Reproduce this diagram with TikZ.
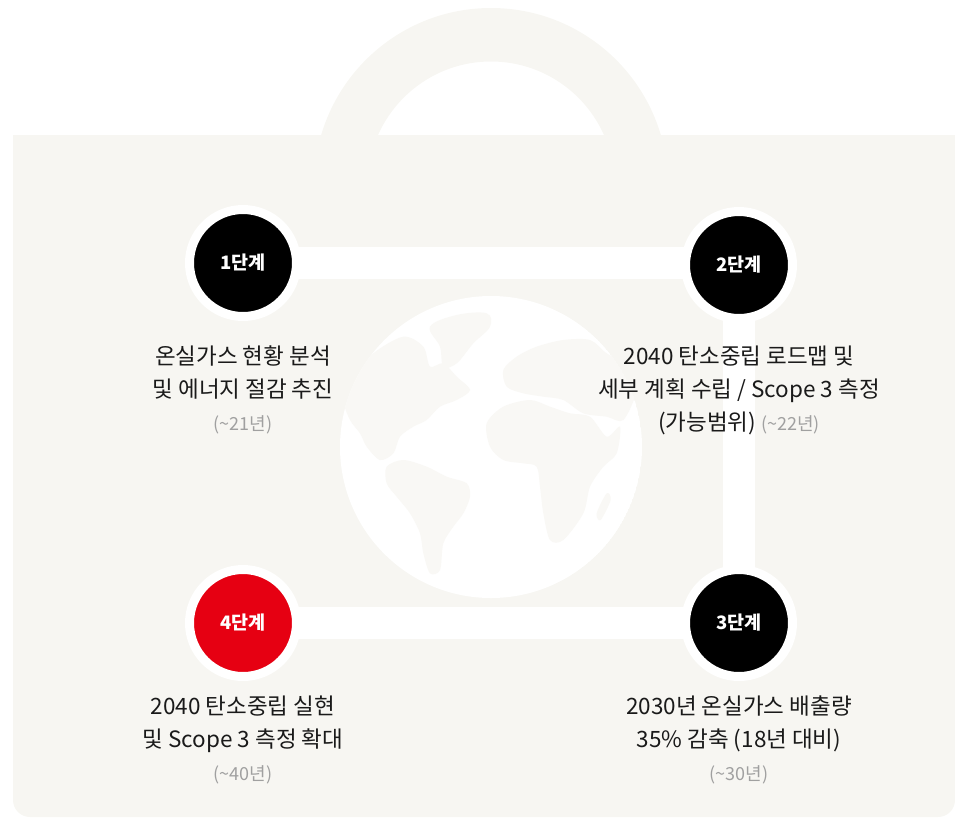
\documentclass[tikz,border=0pt]{standalone}
\usepackage{fontspec}
\newfontfamily\krfont{Noto Sans CJK KR}
\definecolor{paper}{HTML}{F7F6F2}
\definecolor{accent}{HTML}{E60012}
\definecolor{ink}{HTML}{1A1A1A}
\definecolor{muted}{HTML}{A0A0A0}
\pgfdeclarelayer{back}
\pgfdeclarelayer{mid}
\pgfsetlayers{back,mid,main}
\tikzset{
  stage/.style={circle, fill=black, draw=white, line width=9pt, minimum size=107pt,
    inner sep=0pt, text=white, font=\krfont\bfseries\fontsize{18.5}{20}\selectfont},
  link/.style={white, line width=32pt},
  desc/.style={align=center, text=ink, inner sep=0pt, font=\krfont\fontsize{22.5}{33}\selectfont},
  land/.style={fill=paper!80!white},
}
\newcommand{\period}[1]{{\color{muted}\fontsize{18}{33}\selectfont #1}}
\begin{document}
\begin{tikzpicture}[x=1pt,y=-1pt]
\useasboundingbox (0,0) rectangle (955,817);

% stages
\node[stage] (s1) at (243,263) {1단계};
\node[stage] (s2) at (739,265) {2단계};
\node[stage] (s3) at (739,623) {3단계};
\node[stage, fill=accent] (s4) at (243,623) {4단계};

% descriptions
\node[desc] (t1) at (243,390) {온실가스 현황 분석\\및 에너지 절감 추진\\\period{(\textasciitilde21년)}};
\node[desc] (t2) at (739,390) {2040 탄소중립 로드맵 및\\세부 계획 수립 / Scope 3 측정\\(가능범위) \period{(\textasciitilde22년)}};
\node[desc] (t4) at (243,740) {2040 탄소중립 실현\\및 Scope 3 측정 확대\\\period{(\textasciitilde40년)}};
\node[desc] (t3) at (739,740) {2030년 온실가스 배출량\\35\% 감축 (18년 대비)\\\period{(\textasciitilde30년)}};

% connectors between stages
\begin{pgfonlayer}{mid}
\draw[link] (s1.center) -- (s2.center |- s1.center);
\draw[link] (s2.center) -- (s3.center);
\draw[link] (s3.center) -- (s4.center);
\end{pgfonlayer}

\begin{pgfonlayer}{back}
% bag body
\fill[paper, rounded corners=17pt] (13,135) rectangle (955,817);
\fill[paper] (13,135) rectangle (955,300);
% bag handle
\begin{scope}
  \clip (0,0) rectangle (955,136);
  \fill[paper, even odd rule] (491,185) circle[radius=177pt] (491,185) circle[radius=123.5pt];
\end{scope}
% globe
\begin{scope}
  \clip (491,447) circle[radius=151pt];
  \fill[white] (491,447) circle[radius=151pt];
  \begin{scope}[shift={(330,280)}, scale=1/3]
    % Greenland
    \fill[land] plot[smooth cycle, tension=0.6] coordinates {(330,200) (300,140) (380,105) (470,100) (480,140) (430,190) (380,250) (340,260)};
    % North America
    \fill[land] plot[smooth cycle, tension=0.5] coordinates {(60,300) (130,220) (220,170) (280,200) (300,260) (340,250) (380,290) (420,330) (380,360) (330,380) (290,420) (250,440) (210,470) (190,520) (150,540) (110,500) (90,460) (60,420) (40,360)};
    % South America
    \fill[land] plot[smooth cycle, tension=0.5] coordinates {(170,560) (220,540) (290,560) (350,590) (410,610) (420,650) (400,700) (370,740) (340,790) (330,870) (300,880) (280,820) (270,760) (240,700) (200,650) (170,610)};
    % Europe
    \fill[land] plot[smooth cycle, tension=0.5] coordinates {(520,270) (560,230) (620,200) (700,180) (780,180) (830,220) (900,260) (920,330) (880,420) (830,410) (760,400) (700,360) (640,350) (580,340) (530,320)};
    % Africa
    \fill[land] plot[smooth cycle, tension=0.5] coordinates {(470,430) (520,380) (600,360) (660,380) (720,400) (780,410) (830,470) (870,440) (860,520) (820,560) (780,620) (760,700) (700,780) (660,780) (640,700) (630,620) (620,560) (580,550) (520,540) (480,500)};
    % Madagascar
    \fill[land] plot[smooth cycle, tension=0.5] coordinates {(830,640) (842,660) (812,720) (800,700)};
  \end{scope}
\end{scope}
\end{pgfonlayer}
\end{tikzpicture}
\end{document}
